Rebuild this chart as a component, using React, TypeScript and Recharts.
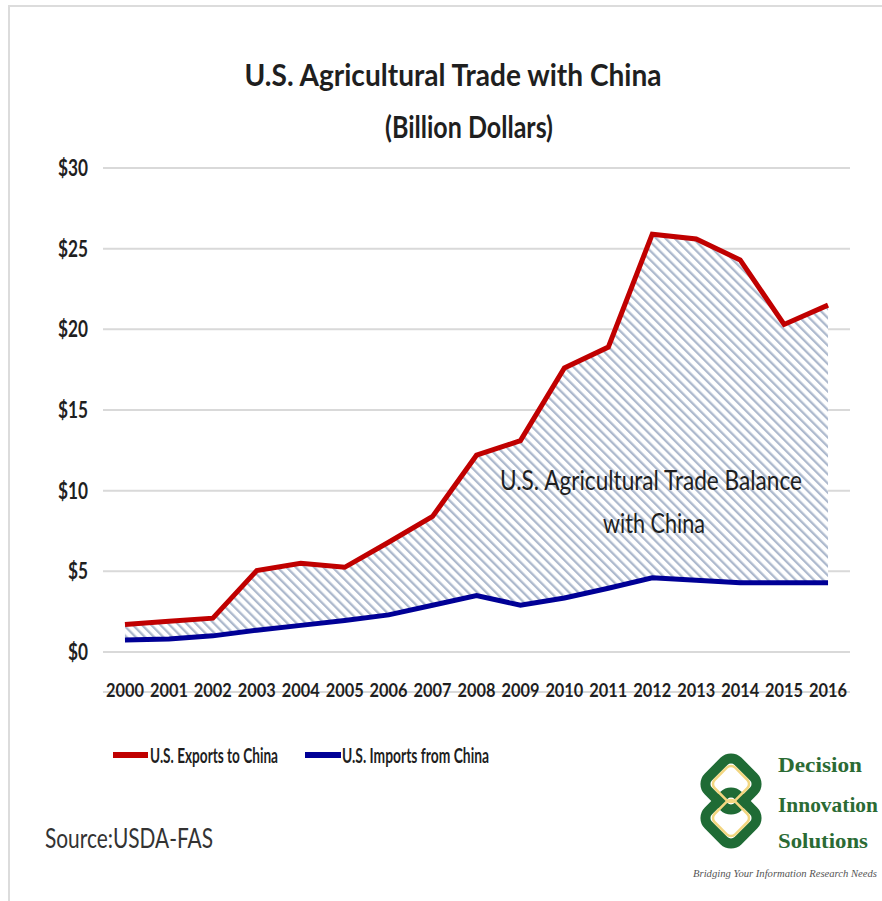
import { ComposedChart, Area, Line, XAxis, YAxis, CartesianGrid } from 'recharts';

// values (billion dollars)
const years = [2000, 2001, 2002, 2003, 2004, 2005, 2006, 2007, 2008, 2009, 2010, 2011, 2012, 2013, 2014, 2015, 2016];
const exportsToChina = [1.7, 1.9, 2.1, 5.05, 5.5, 5.25, 6.8, 8.4, 12.2, 13.1, 17.6, 18.9, 25.9, 25.6, 24.3, 20.3, 21.5];
const importsFromChina = [0.75, 0.8, 1.0, 1.35, 1.65, 1.95, 2.3, 2.9, 3.5, 2.9, 3.35, 3.95, 4.6, 4.45, 4.3, 4.3, 4.3];
const yTicks = [0, 5, 10, 15, 20, 25, 30];

const rows = years.map((year, i) => ({
  year,
  exports: exportsToChina[i],
  imports: importsFromChina[i],
  balance: [importsFromChina[i], exportsToChina[i]],
}));

// category boundaries for the x-axis tick marks
const edges = [...years.map((y) => y - 0.5), years[years.length - 1] + 0.5];

const FONT = "Lato, 'Open Sans', sans-serif";
const INK = '#1f1f1f';

const XTick = (props: any) => {
  const { x, y, payload } = props;
  return (
    <text x={x} y={y + 27} textAnchor="middle" fontFamily={FONT} fontWeight={700} fontSize={18} fill={INK}
      textLength={38} lengthAdjust="spacingAndGlyphs">
      {payload.value}
    </text>
  );
};

const YTick = (props: any) => {
  const { x, y, payload } = props;
  const label = `$${payload.value}`;
  return (
    <text x={x} y={y + 8} textAnchor="end" fontFamily={FONT} fontWeight={700} fontSize={22} fill={INK}
      textLength={label.length * 10} lengthAdjust="spacingAndGlyphs">
      {label}
    </text>
  );
};

function Overlay() {
  const squash = { lengthAdjust: 'spacingAndGlyphs' as const };
  const serif = "'Liberation Serif', serif";
  return (
    <svg width={882} height={901} style={{ position: 'absolute', left: 0, top: 0, pointerEvents: 'none' }}>
      {/* frame */}
      <line x1={9} y1={5} x2={9} y2={901} stroke="#dcdcdc" strokeWidth={2} />
      <line x1={8} y1={6} x2={882} y2={6} stroke="#dcdcdc" strokeWidth={2} />

      {/* title */}
      <text x={453} y={86} textAnchor="middle" fontFamily={FONT} fontWeight={700} fontSize={31} fill={INK} textLength={417} {...squash}>
        U.S. Agricultural Trade with China
      </text>
      <text x={469} y={138} textAnchor="middle" fontFamily={FONT} fontWeight={700} fontSize={31} fill={INK} textLength={168} {...squash}>
        (Billion Dollars)
      </text>

      {/* area annotation */}
      <text x={651} y={490} textAnchor="middle" fontFamily={FONT} fontSize={27} fill={INK} textLength={302} {...squash}>
        U.S. Agricultural Trade Balance
      </text>
      <text x={654} y={533} textAnchor="middle" fontFamily={FONT} fontSize={27} fill={INK} textLength={102} {...squash}>
        with China
      </text>

      {/* legend */}
      <line x1={113} y1={755} x2={148} y2={755} stroke="#c00000" strokeWidth={6} />
      <text x={150} y={763} fontFamily={FONT} fontWeight={700} fontSize={21} fill={INK} textLength={128} {...squash}>
        U.S. Exports to China
      </text>
      <line x1={305} y1={755} x2={341} y2={755} stroke="#000096" strokeWidth={6} />
      <text x={342} y={763} fontFamily={FONT} fontWeight={700} fontSize={21} fill={INK} textLength={147} {...squash}>
        U.S. Imports from China
      </text>

      {/* source */}
      <text x={45} y={848} fontFamily={FONT} fontSize={27} fill="#333" textLength={168} {...squash}>
        Source:USDA-FAS
      </text>

      {/* logo */}
      {[784, 818].map((cy) => (
        <g key={cy} transform={`translate(731,${cy}) rotate(45)`}>
          <rect x={-21} y={-21} width={42} height={42} rx={10} fill="none" stroke="#1f6b35" strokeWidth={10} />
        </g>
      ))}
      {[784, 818].map((cy) => (
        <g key={`y${cy}`} transform={`translate(731,${cy}) rotate(45)`}>
          <rect x={-14.5} y={-14.5} width={29} height={29} rx={6} fill="none" stroke="#f2d680" strokeWidth={2.5} />
        </g>
      ))}
      <text x={778} y={772} fontFamily={serif} fontWeight={700} fontSize={21.5} fill="#2b6b34" textLength={84} {...squash}>
        Decision
      </text>
      <text x={778} y={812} fontFamily={serif} fontWeight={700} fontSize={21.5} fill="#2b6b34" textLength={100} {...squash}>
        Innovation
      </text>
      <text x={778} y={848} fontFamily={serif} fontWeight={700} fontSize={21.5} fill="#2b6b34" textLength={90} {...squash}>
        Solutions
      </text>
      <text x={693} y={877} fontFamily={serif} fontStyle="italic" fontSize={11} fill="#555" textLength={184} {...squash}>
        Bridging Your Information Research Needs
      </text>
    </svg>
  );
}

export default function App() {
  return (
    <div style={{ position: 'absolute', left: 0, top: 0, width: 882, height: 901, background: '#fff' }}>
      <ComposedChart width={882} height={901} data={rows} margin={{ top: 168, right: 32, bottom: 199, left: 0 }}>
        <defs>
          <pattern id="hatch" width={6.5} height={6.5} patternUnits="userSpaceOnUse" patternTransform="rotate(-45)">
            <rect width={6.5} height={6.5} fill="#fff" />
            <line x1={3} y1={0} x2={3} y2={6.5} stroke="#adb9cd" strokeWidth={2.3} />
          </pattern>
        </defs>
        <CartesianGrid vertical={false} stroke="#d9d9d9" strokeWidth={2} />
        <XAxis xAxisId="edges" type="number" dataKey="year" domain={[1999.5, 2016.5]} ticks={edges} interval={0}
          height={10} tick={false} tickSize={10}
          axisLine={{ stroke: '#d9d9d9', strokeWidth: 2 }} tickLine={{ stroke: '#d9d9d9', strokeWidth: 1.5 }} />
        <XAxis type="number" dataKey="year" domain={[1999.5, 2016.5]} ticks={years} interval={0}
          height={40} axisLine={false} tickLine={false} tickSize={0} tickMargin={18} tick={<XTick />} />
        <YAxis domain={[0, 30]} ticks={yTicks} interval={0} width={103} axisLine={false} tickLine={false}
          tickSize={0} tickMargin={15} tick={<YTick />} />
        <Area dataKey="balance" type="linear" fill="url(#hatch)" fillOpacity={1} stroke="none" isAnimationActive={false} />
        <Line dataKey="imports" type="linear" stroke="#000096" strokeWidth={5} dot={false} isAnimationActive={false} />
        <Line dataKey="exports" type="linear" stroke="#c00000" strokeWidth={5} dot={false} isAnimationActive={false} />
      </ComposedChart>
      <Overlay />
    </div>
  );
}
